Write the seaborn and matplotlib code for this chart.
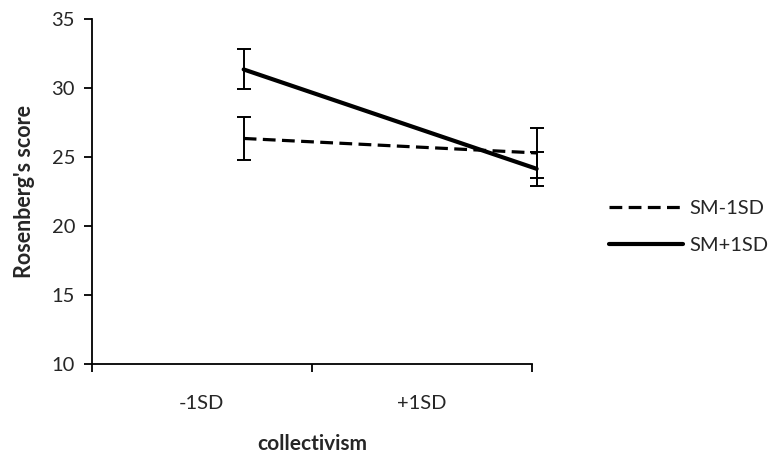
import numpy as np
import pandas as pd
import matplotlib
matplotlib.use("Agg")
import matplotlib.pyplot as plt
import seaborn as sns
from matplotlib.lines import Line2D

# Dados
groups = ["SM-1SD", "SM+1SD"]
x_pos = [0.69, 2.02]            # posição dos pontos no eixo (em unidades de categoria)
sm_minus = [26.35, 25.3]
sm_plus = [31.35, 24.15]
err_minus = [1.53, 1.8]
err_plus = [1.45, 1.25]
tick_labels = ["-1SD", "+1SD"]

df = pd.DataFrame({
    "x": x_pos * 2,
    "score": sm_minus + sm_plus,
    "err": err_minus + err_plus,
    "group": [groups[0]] * 2 + [groups[1]] * 2,
})

sns.set_style("white")
plt.rcParams["font.family"] = ["Lato", "DejaVu Sans"]
fs = 14.5

fig = plt.figure(figsize=(7.77, 4.54), dpi=100)
ax = fig.add_axes([0.118, 0.198, 0.567, 0.760])

sns.lineplot(data=df, x="x", y="score", hue="group", style="group",
             palette={groups[0]: "black", groups[1]: "black"},
             dashes={groups[0]: (4, 2), groups[1]: ""},
             size="group", sizes={groups[0]: 2.3, groups[1]: 3.0},
             legend=False, ax=ax, clip_on=False)

# Barras de erro
for g in groups:
    sub = df[df["group"] == g]
    ax.errorbar(sub["x"], sub["score"], yerr=sub["err"], fmt="none",
                ecolor="black", elinewidth=1.4, capsize=5, capthick=1.4,
                clip_on=False, zorder=3)

ax.set_xlim(0, 2)
ax.set_ylim(10, 35)
ax.set_yticks(range(10, 36, 5))
ax.set_xticks([0, 1, 2])
ax.set_xticklabels([])
ax.set_xticks([0.5, 1.5], minor=True)
ax.set_xticklabels(tick_labels, minor=True)
ax.tick_params(axis="x", which="minor", bottom=False, length=0, pad=22, labelsize=fs)
ax.tick_params(axis="x", which="major", bottom=True, direction="out", length=6,
               width=1.3, color="black")
ax.tick_params(axis="y", left=True, direction="out", length=6, width=1.3,
               color="black", labelsize=fs, pad=6)

for s in ["top", "right"]:
    ax.spines[s].set_visible(False)
for s in ["left", "bottom"]:
    ax.spines[s].set_color("black")
    ax.spines[s].set_linewidth(1.3)

ax.set_xlabel("collectivism", fontsize=fs + 0.5, fontweight="bold", labelpad=16)
ax.set_ylabel("Rosenberg's score", fontsize=fs + 1, fontweight="bold", labelpad=12)

# Legenda manual
handles = [Line2D([], [], color="black", lw=2.3, dashes=(4, 2)),
           Line2D([], [], color="black", lw=3.0)]
fig.legend(handles, groups, loc="center left", bbox_to_anchor=(0.76, 0.50),
           frameon=False, fontsize=fs, handlelength=3.7, handletextpad=0.3,
           labelspacing=1.0)

plt.savefig("out.png", dpi=100)
